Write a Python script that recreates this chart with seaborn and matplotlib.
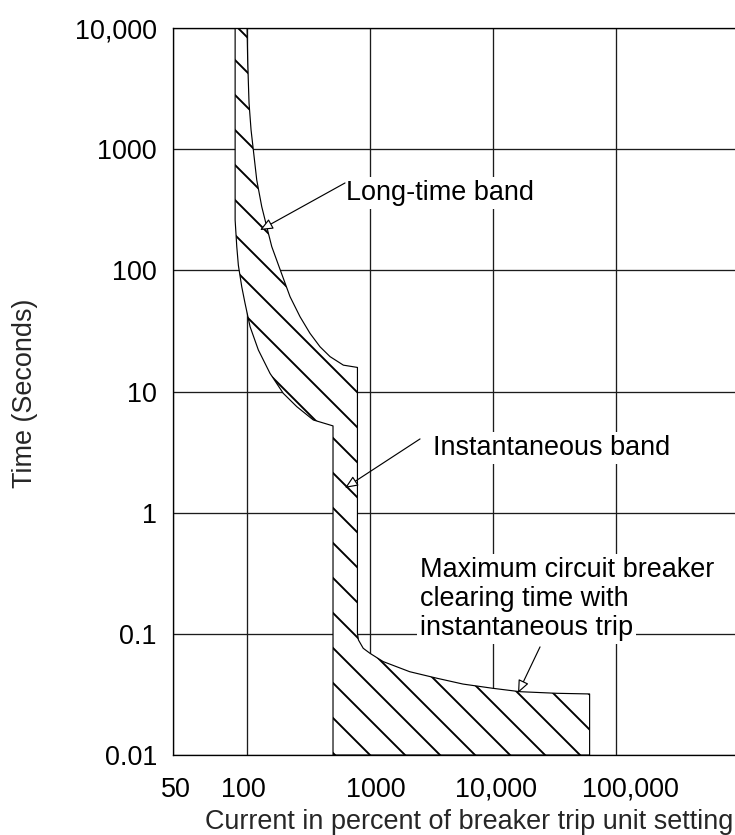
import matplotlib
matplotlib.use('Agg')
import matplotlib.pyplot as plt
import matplotlib.transforms as mtransforms
import seaborn as sns

# long-time band, lower-left edge (current in %, time in s)
lt_lower_current = [80, 80, 82.5, 85, 90.6, 96.3, 105.8, 123.6, 153.8, 197, 254, 346, 473, 500]
lt_lower_time = [10000, 260, 157, 110, 73, 53.5, 34.3, 22, 14.1, 9.66, 7.49, 5.82, 5.29, 5.2]

# long-time band, upper-right edge
lt_upper_current = [100, 101.3, 103.8, 107.8, 112.5, 119.9, 131.7, 144.6, 158.8, 186,
                    223.7, 269.7, 325, 392, 473, 607, 790]
lt_upper_time = [10000, 5110, 2400, 1440, 984, 557, 335, 229, 157, 101,
                 60.6, 41.4, 30.2, 23.4, 19.4, 16.5, 15.8]

# instantaneous band: left edge and floor, then max clearing time curve
inst_left = 500
inst_floor = 0.01
clear_current = [790, 805, 880, 1000, 1280, 2100, 3500, 5700, 10000, 16600, 33000, 61000]
clear_time = [0.101, 0.089, 0.076, 0.069, 0.059, 0.0487, 0.043, 0.0385, 0.0355, 0.0333,
              0.0323, 0.0319]

x_ticks = [25, 100, 1000, 10000, 100000]
x_labels = ['50', '100', '1000', '10,000', '100,000']
x_label_shift = [3, -4, 6, 3, 14]  # px, labels sit a bit off the grid lines
y_ticks = [0.01, 0.1, 1, 10, 100, 1000, 10000]
y_labels = ['0.01', '0.1', '1', '10', '100', '1000', '10,000']

# annotations: text anchor (left, baseline), arrow start, arrow tip
lt_text = ('Long-time band', (638, 381), (626, 526), (127.5, 215))
inst_text = ('Instantaneous band', (3253, 2.99), (2550, 4.06), (626, 1.6))
max_lines = ['Maximum circuit breaker', 'clearing time with', 'instantaneous trip']
max_line_y = [0.2945, 0.1697, 0.0978]
max_x = 2550
max_arrow = ((24110, 0.078), (15970, 0.0325))

DPI = 210
FS = 9.26

sns.set_theme(style='white')
plt.rcParams['font.family'] = ['Liberation Sans', 'DejaVu Sans']
plt.rcParams['hatch.linewidth'] = 0.65
plt.rcParams['text.color'] = 'black'

fig = plt.figure(figsize=(735 / DPI, 835 / DPI), dpi=DPI)
ax = fig.add_axes([173 / 735, 80 / 835, 566 / 735, 727 / 835])
ax.set_xscale('log')
ax.set_yscale('log')
ax.set_xlim(25, 1e6)
ax.set_ylim(0.01, 10000)

# one closed outline: long-time band into the instantaneous band
band_x = (lt_lower_current + [inst_left, clear_current[-1]]
          + clear_current[::-1] + lt_upper_current[::-1])
band_y = (lt_lower_time + [inst_floor, inst_floor]
          + clear_time[::-1] + lt_upper_time[::-1])

ax.fill(band_x, band_y, facecolor='white', edgecolor='black', hatch='\\\\',
        linewidth=0, zorder=2)
sns.lineplot(x=band_x + band_x[:1], y=band_y + band_y[:1], sort=False,
             estimator=None, color='black', lw=0.4, ax=ax, zorder=3)

ax.set_xticks(x_ticks)
ax.set_xticklabels(x_labels)
ax.set_yticks(y_ticks)
ax.set_yticklabels(y_labels)
ax.minorticks_off()
ax.tick_params(axis='both', length=0, labelsize=FS, colors='black')
ax.tick_params(axis='x', pad=7.5)
ax.tick_params(axis='y', pad=5.5)
for lab, dx in zip(ax.get_xticklabels(), x_label_shift):
    lab.set_transform(lab.get_transform()
                      + mtransforms.ScaledTranslation(dx / DPI, 0, fig.dpi_scale_trans))

ax.set_axisbelow(True)
ax.grid(True, color='#1c1c1c', lw=0.45)
for side in ['left', 'bottom', 'top']:
    ax.spines[side].set_color('black')
    ax.spines[side].set_linewidth(0.45)
ax.spines['right'].set_visible(False)

ax.set_xlabel('Current in percent of breaker trip unit setting', fontsize=FS)
ax.xaxis.set_label_coords(0.523, -0.1018)
ax.xaxis.label.set_va('baseline')
ax.set_ylabel('Time (Seconds)', fontsize=FS)
ax.yaxis.set_label_coords(-0.2615, 0.498)
ax.yaxis.label.set_va('center')

box = dict(boxstyle='square,pad=0.1', fc='white', ec='none')
arrow = dict(arrowstyle='-|>,head_length=0.4,head_width=0.17', lw=0.4,
             ec='black', fc='white', shrinkA=0, shrinkB=0, mutation_scale=FS)

for label, pos, start, tip in [lt_text, inst_text]:
    ax.text(pos[0], pos[1], label, fontsize=FS, ha='left', va='baseline',
            bbox=box, zorder=4)
    ax.annotate('', xy=tip, xytext=start, arrowprops=arrow, zorder=5)

for line, y in zip(max_lines, max_line_y):
    ax.text(max_x, y, line, fontsize=FS, ha='left', va='baseline',
            bbox=box, zorder=4)
ax.annotate('', xy=max_arrow[1], xytext=max_arrow[0], arrowprops=arrow, zorder=5)

fig.savefig('out.png', dpi=DPI)
